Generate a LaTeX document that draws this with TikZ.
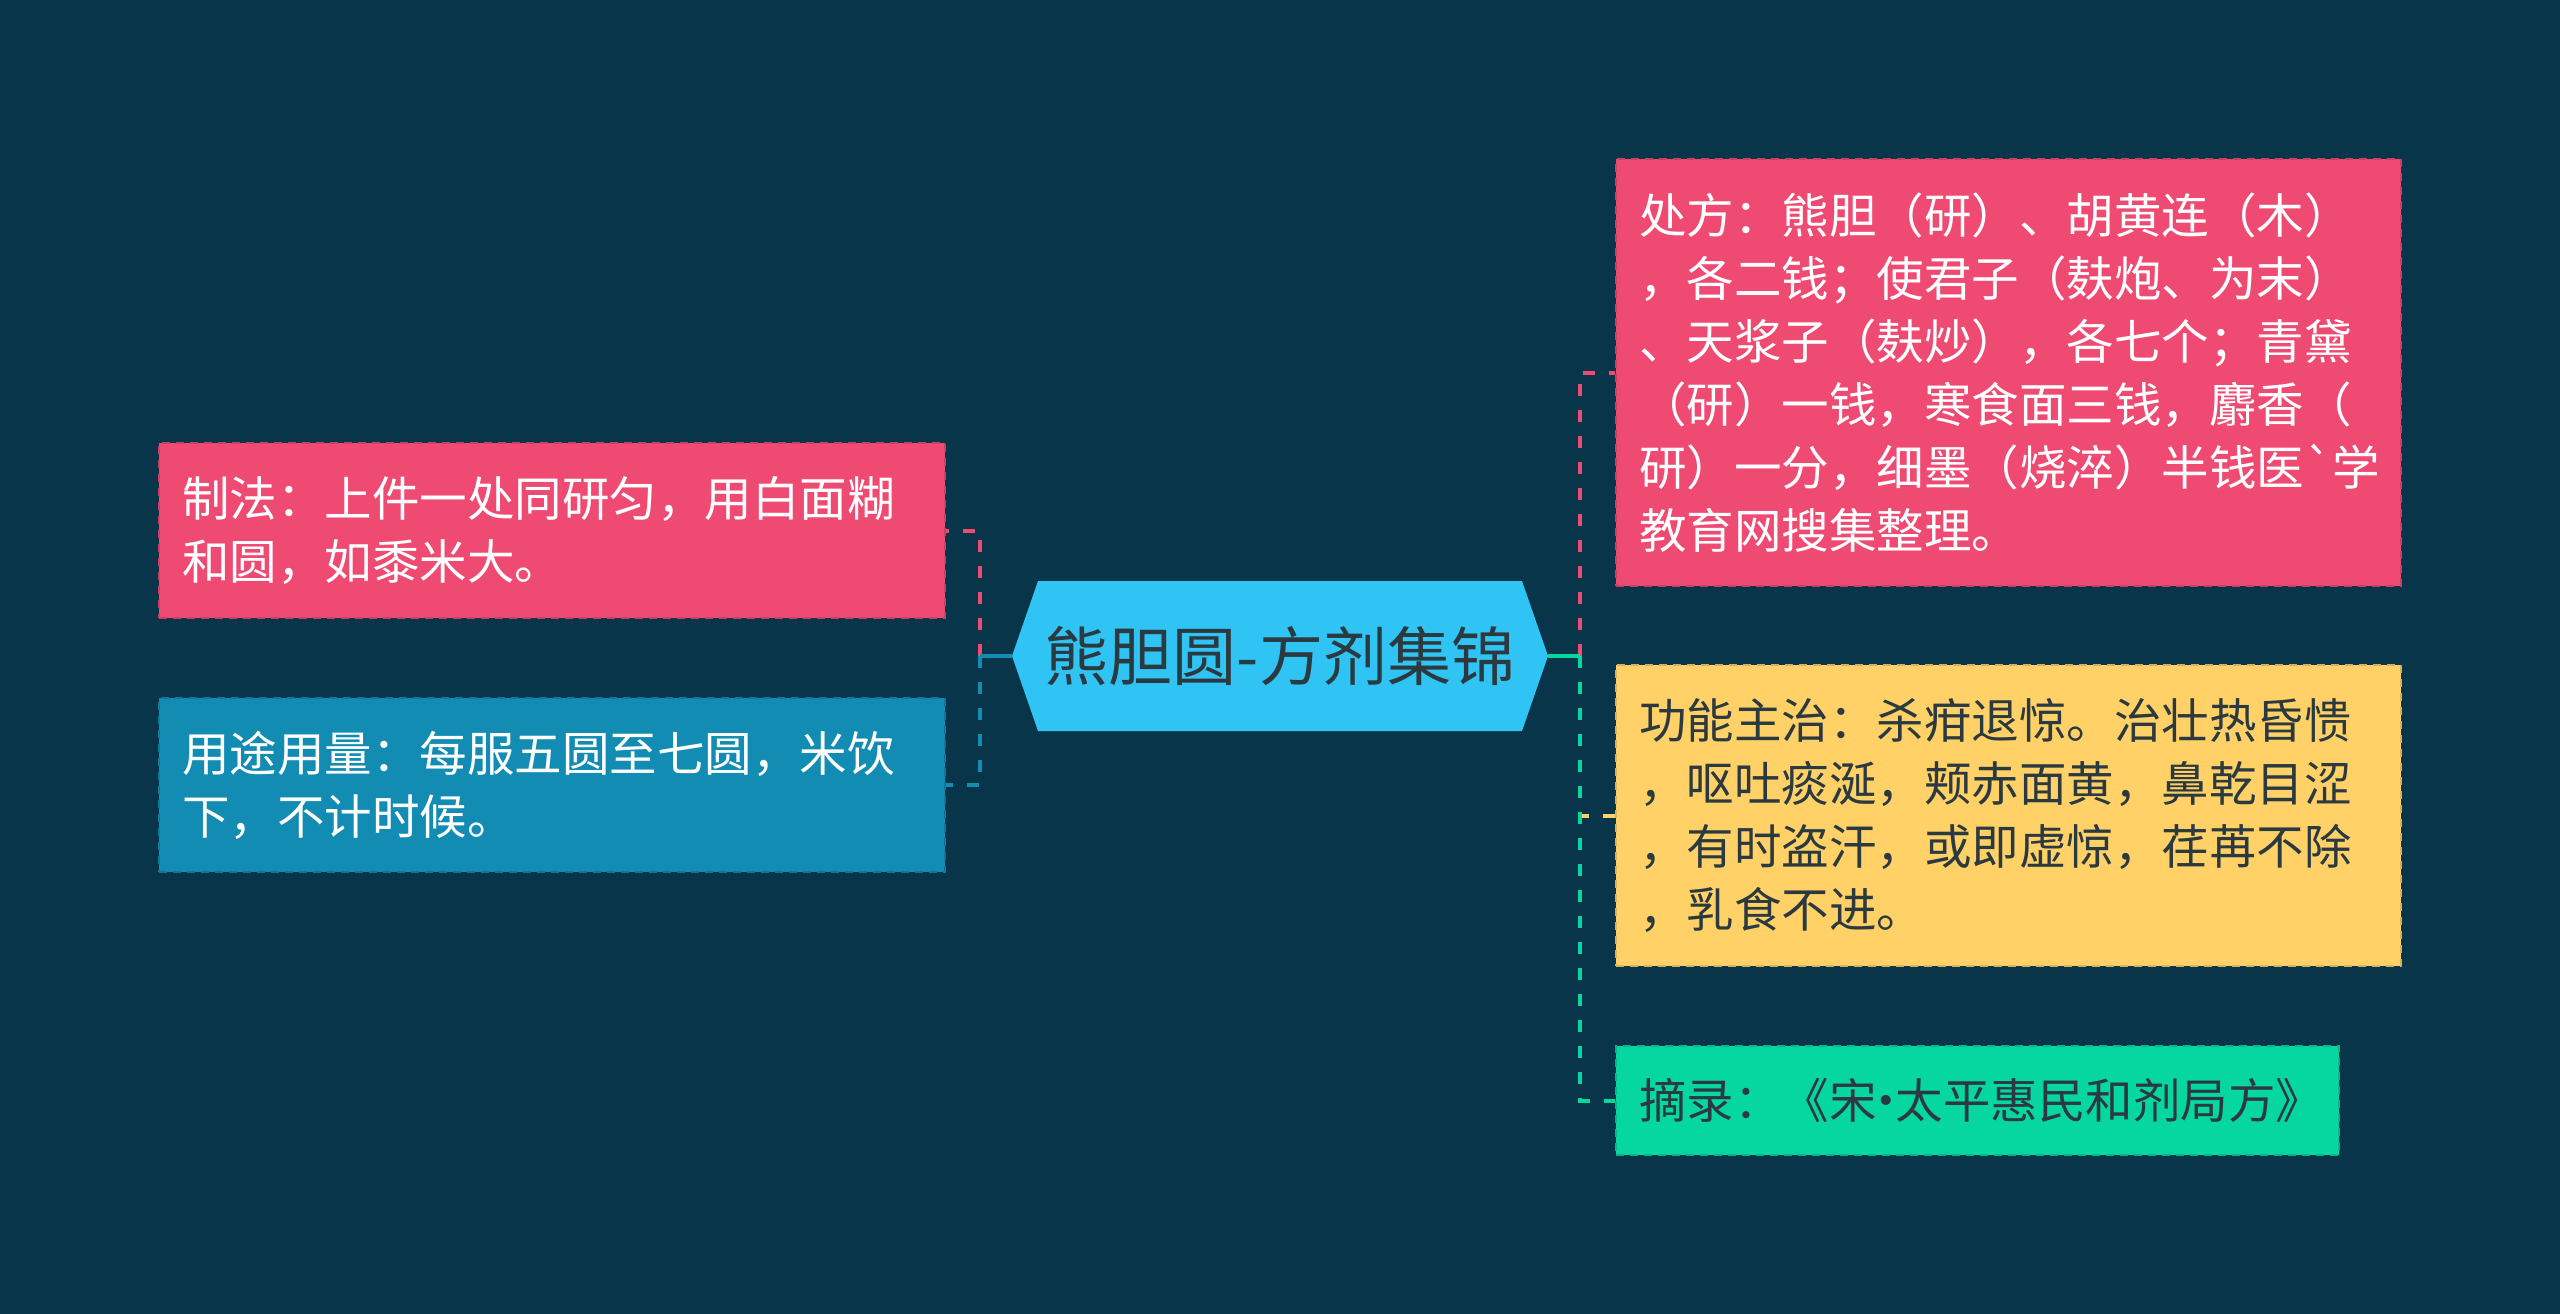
\documentclass[tikz,border=0pt]{standalone}
\usepackage{fontspec}
\setmainfont{Noto Sans CJK SC}[Ligatures=TeXOff]
\definecolor{bg}{HTML}{083549}
\definecolor{cpink}{HTML}{EF4A72}
\definecolor{cblue}{HTML}{138CB4}
\definecolor{cyellow}{HTML}{FFD166}
\definecolor{cgreen}{HTML}{06D6A0}
\definecolor{chex}{HTML}{30C4F4}
\definecolor{cdark}{HTML}{2B3A40}
\newcommand{\middot}{\kern-0.3em·\kern-0.3em}
\begin{document}
\begin{tikzpicture}[x=1pt,y=-1pt,
  box/.style={anchor=north west, inner xsep=23, inner ysep=0, align=left,
    font=\fontsize{47.5}{63}\selectfont, line width=2, dash pattern=on 8pt off 6pt},
  link/.style={line width=4},
  dlink/.style={line width=4, dash pattern=on 12pt off 14pt}]
\fill[bg] (0,0) rectangle (2560,1314);
\useasboundingbox (0,0) rectangle (2560,1314);
% centre hexagon
\coordinate (hc) at (1280,656);
\fill[chex] ([xshift=-268]hc) -- ([shift={(-242,-75)}]hc) -- ([shift={(242,-75)}]hc)
  -- ([xshift=268]hc) -- ([shift={(242,75)}]hc) -- ([shift={(-242,75)}]hc) -- cycle;
\node[minimum width=536, minimum height=150, inner sep=0, text=cdark,
  font=\fontsize{64}{70}\selectfont] (hex) at (hc) {熊胆圆-方剂集锦};
% left boxes
\node[box, fill=cpink, draw=cpink!85!black, text=white, minimum width=786, minimum height=175, text width=740]
  (l1) at (158,442) {制法：上件一处同研匀，用白面糊\\和圆，如黍米大。};
\node[box, fill=cblue, draw=cblue!85!black, text=white, minimum width=786, minimum height=174, text width=740]
  (l2) at (158,697) {用途用量：每服五圆至七圆，米饮\\下，不计时候。};
% right boxes
\node[box, fill=cpink, draw=cpink!85!black, text=white, minimum width=785, minimum height=427, text width=739]
  (r1) at (1615,158) {处方：熊胆（研）、胡黄连（木）\\，各二钱；使君子（麸炮、为末）\\、天浆子（麸炒），各七个；青黛\\（研）一钱，寒食面三钱，麝香（\\研）一分，细墨（烧淬）半钱医`学\\教育网搜集整理。};
\node[box, fill=cyellow, draw=cyellow!85!black, text=cdark, minimum width=785, minimum height=301, text width=739]
  (r2) at (1615,664) {功能主治：杀疳退惊。治壮热昏愦\\，呕吐痰涎，颊赤面黄，鼻乾目涩\\，有时盗汗，或即虚惊，荏苒不除\\，乳食不进。};
\node[box, fill=cgreen, draw=cgreen!85!black, text=cdark, minimum width=723, minimum height=109, text width=677]
  (r3) at (1615,1045) {摘录：《宋\middot 太平惠民和剂局方》};
% connectors
\coordinate (jl) at ([xshift=-32]hex.west);
\coordinate (jr) at ([xshift=32]hex.east);
\draw[dlink, cpink] (jl) |- (l1.east);
\draw[dlink, cblue] (jl) |- (l2.east);
\draw[link, cblue] (hex.west) -- (jl);
\draw[dlink, cpink] (jr) |- (r1.west);
\draw[dlink, cyellow] (jr) |- (r2.west);
\draw[dlink, cgreen] (jr) |- (r3.west);
\draw[link, cgreen] (hex.east) -- (jr);
\end{tikzpicture}
\end{document}
